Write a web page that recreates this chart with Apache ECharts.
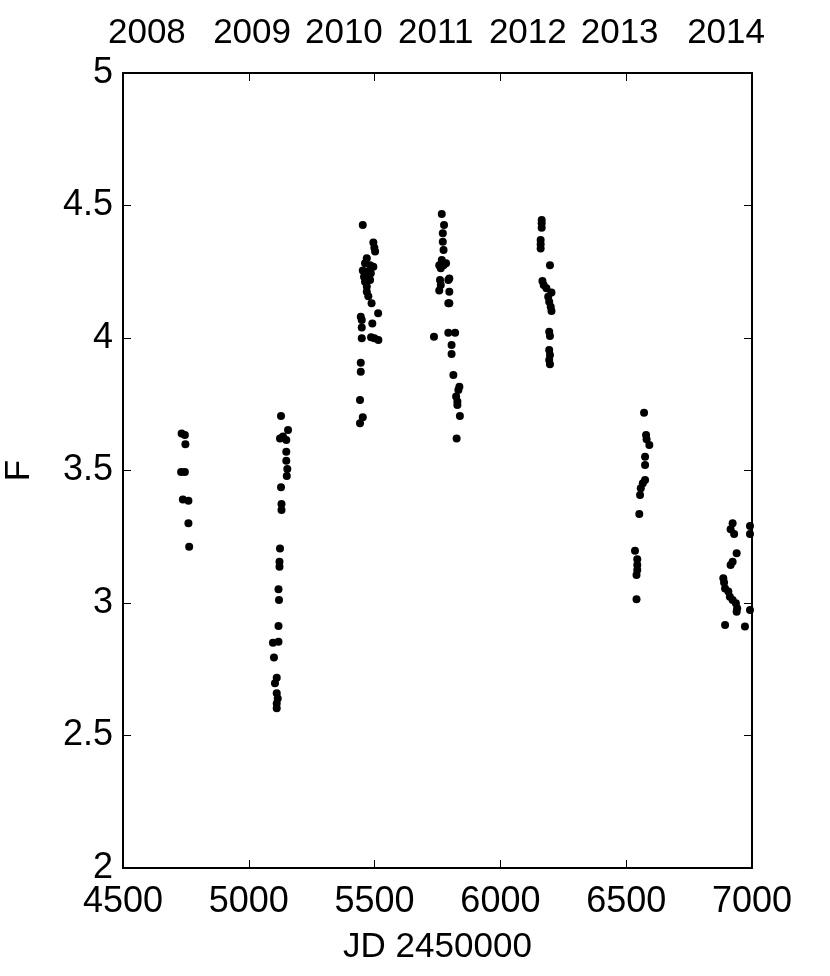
<!DOCTYPE html>
<html>
<head>
<meta charset="utf-8">
<script src="https://cdn.jsdelivr.net/npm/echarts@6/dist/echarts.min.js"></script>
<style>
    html, body { margin: 0; padding: 0; background: #fff; }
    #plot { width: 830px; height: 976px; }
</style>
</head>
<body>
<div id="plot"></div>
<script>
    // observing seasons, [JD - 2450000, F]
    var season2008 = [[4733,3.640],[4746,3.634],[4748,3.599],[4731,3.494],[4746,3.494],[4738,3.391],[4760,3.386],[4760,3.301],[4763,3.212]];
    var season2009 = [[5128,3.706],[5156,3.653],[5124,3.621],[5136,3.628],[5149,3.615],[5149,3.571],[5149,3.537],[5153,3.506],[5151,3.479],[5128,3.437],[5130,3.374],[5130,3.351],[5124,3.206],[5122,3.156],[5122,3.137],[5118,3.052],[5120,3.011],[5118,2.913],[5096,2.850],[5118,2.854],[5100,2.794],[5111,2.718],[5104,2.697],[5111,2.659],[5115,2.640],[5111,2.621],[5111,2.603]];
    var season2010 = [[5453,4.426],[5495,4.360],[5499,4.341],[5502,4.326],[5469,4.301],[5462,4.282],[5482,4.275],[5495,4.269],[5453,4.255],[5469,4.250],[5485,4.244],[5458,4.231],[5475,4.225],[5462,4.212],[5482,4.219],[5469,4.194],[5469,4.175],[5475,4.158],[5488,4.131],[5514,4.093],[5445,4.080],[5449,4.068],[5491,4.055],[5449,4.040],[5449,3.999],[5486,4.003],[5499,3.999],[5515,3.992],[5445,3.907],[5445,3.873],[5442,3.766],[5453,3.701],[5442,3.678]];
    var season2011 = [[5767,4.468],[5776,4.426],[5771,4.395],[5771,4.363],[5774,4.332],[5767,4.294],[5784,4.282],[5757,4.275],[5774,4.275],[5763,4.263],[5797,4.225],[5793,4.219],[5760,4.219],[5763,4.200],[5757,4.179],[5797,4.175],[5797,4.131],[5793,4.131],[5736,4.005],[5793,4.020],[5820,4.020],[5806,3.974],[5806,3.940],[5813,3.860],[5837,3.816],[5833,3.804],[5824,3.779],[5829,3.760],[5829,3.747],[5839,3.706],[5826,3.621]];
    var season2012 = [[6164,4.445],[6164,4.433],[6164,4.416],[6160,4.370],[6160,4.354],[6160,4.338],[6197,4.275],[6167,4.215],[6172,4.200],[6183,4.188],[6203,4.172],[6190,4.156],[6194,4.137],[6200,4.118],[6203,4.102],[6194,4.024],[6197,4.008],[6194,3.955],[6197,3.936],[6194,3.917],[6197,3.901]];
    var season2013 = [[6571,3.718],[6579,3.634],[6581,3.618],[6592,3.596],[6575,3.552],[6575,3.521],[6575,3.464],[6566,3.452],[6558,3.433],[6555,3.408],[6552,3.336],[6535,3.197],[6544,3.165],[6544,3.143],[6544,3.125],[6541,3.106],[6541,3.014]];
    var season2014 = [[6923,3.301],[6915,3.278],[6929,3.260],[6992,3.291],[6992,3.260],[6939,3.188],[6923,3.156],[6915,3.143],[6886,3.093],[6889,3.077],[6893,3.055],[6906,3.043],[6912,3.024],[6923,3.011],[6936,2.999],[6941,2.980],[6939,2.967],[6992,2.974],[6893,2.917],[6972,2.911]];

    // year labels along the top and where they sit on the JD axis
    var yearLabels = ['2008', '2009', '2010', '2011', '2012', '2013', '2014'];
    var yearJd = [4595, 5013, 5378, 5743, 6109, 6474, 6897];

    var font = 'Liberation Sans, Arial, Helvetica, sans-serif';
    var black = '#000';

    function frameAxis(pos, showLabel) {
        return {
            type: 'value',
            position: pos,
            axisLine: {show: true, onZero: false, lineStyle: {color: black, width: 2}},
            axisTick: {show: true, inside: true, length: 8, lineStyle: {color: black, width: 1}},
            axisLabel: {show: showLabel, color: black, fontSize: 36, fontFamily: font,
                formatter: function (v) { return String(v); }},
            splitLine: {show: false}
        };
    }

    var xBottom = frameAxis('bottom', true);
    xBottom.min = 4500; xBottom.max = 7000; xBottom.interval = 500;
    xBottom.axisLabel.margin = 16;
    xBottom.name = 'JD 2450000';
    xBottom.nameLocation = 'middle';
    xBottom.nameGap = 62;
    xBottom.nameTextStyle = {color: black, fontSize: 35, fontFamily: font};

    var xTop = frameAxis('top', false);
    xTop.min = 4500; xTop.max = 7000; xTop.interval = 500;

    var yLeft = frameAxis('left', true);
    yLeft.min = 2; yLeft.max = 5; yLeft.interval = 0.5;
    yLeft.axisLabel.margin = 10;
    yLeft.name = 'F';
    yLeft.nameLocation = 'middle';
    yLeft.nameGap = 86;
    yLeft.nameTextStyle = {color: black, fontSize: 35, fontFamily: font};

    var yRight = frameAxis('right', false);
    yRight.min = 2; yRight.max = 5; yRight.interval = 0.5;

    var seasons = [season2008, season2009, season2010, season2011, season2012, season2013, season2014];

    var chart = echarts.init(document.getElementById('plot'), null, {renderer: 'canvas'});
    chart.setOption({
        animation: false,
        backgroundColor: '#fff',
        textStyle: {fontFamily: font},
        grid: {left: 123, right: 78, top: 73, bottom: 108, containLabel: false, outerBoundsMode: 'none'},
        xAxis: [xBottom, xTop],
        yAxis: [yLeft, yRight],
        series: seasons.map(function (s) {
            return {
                type: 'scatter',
                xAxisIndex: 0,
                yAxisIndex: 0,
                symbol: 'circle',
                symbolSize: 8,
                itemStyle: {color: black, opacity: 1},
                data: s
            };
        })
    });

    // year texts above the frame, placed through the x scale
    chart.setOption({
        graphic: yearLabels.map(function (label, i) {
            return {
                type: 'text',
                x: chart.convertToPixel({xAxisIndex: 0}, yearJd[i]),
                y: 33,
                style: {
                    text: label,
                    fill: black,
                    font: '35px ' + font,
                    textAlign: 'center',
                    textVerticalAlign: 'middle'
                }
            };
        })
    });
</script>
</body>
</html>
